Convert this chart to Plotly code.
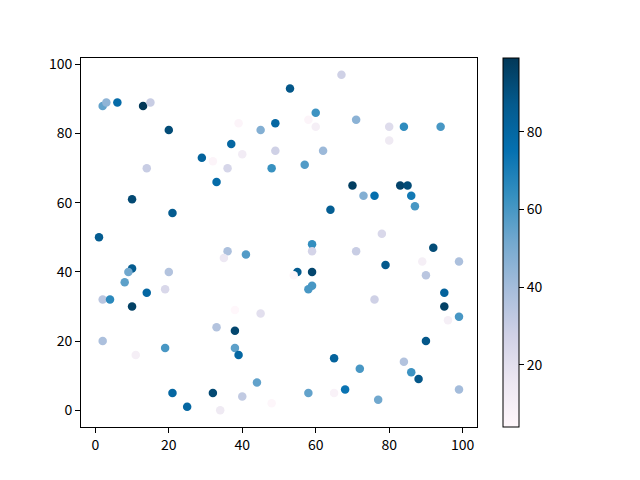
import plotly.graph_objects as go

# scatter points (x, y, colour value)
x_vals = [2, 3, 6, 13, 15, 20, 39, 45, 49, 37, 29, 32, 40, 36, 49, 48, 14, 33, 10, 21,
          1, 67, 53, 60, 58, 60, 71, 80, 84, 94, 80, 62, 57, 70, 73, 76, 83, 85, 86, 87,
          64, 78, 36, 35, 41, 10, 9, 20, 8, 14, 19, 2, 4, 10, 38, 45, 33, 38, 2, 38,
          39, 19, 11, 44, 21, 32, 40, 25, 34, 48, 59, 59, 71, 92, 55, 59, 54, 79, 89, 99,
          90, 59, 58, 76, 95, 95, 96, 99, 90, 65, 84, 72, 86, 88, 58, 65, 68, 77, 99]
y_vals = [88, 89, 89, 88, 89, 81, 83, 81, 83, 77, 73, 72, 74, 70, 75, 70, 70, 66, 61, 57,
          50, 97, 93, 86, 84, 82, 84, 82, 82, 82, 78, 75, 71, 65, 62, 62, 65, 65, 62, 59,
          58, 51, 46, 44, 45, 41, 40, 40, 37, 34, 35, 32, 32, 30, 29, 28, 24, 23, 20, 18,
          16, 18, 16, 8, 5, 5, 4, 1, 0, 2, 48, 46, 46, 47, 40, 40, 39, 42, 43, 43,
          39, 36, 35, 32, 34, 30, 26, 27, 20, 15, 14, 12, 11, 9, 5, 5, 6, 3, 6]
c_vals = [55, 45, 78, 99, 30, 92, 6, 48, 80, 80, 82, 6, 12, 25, 28, 63, 30, 78, 93, 86,
          86, 28, 88, 62, 6, 10, 46, 22, 65, 60, 14, 42, 58, 97, 48, 76, 95, 92, 72, 60,
          85, 24, 38, 15, 58, 86, 52, 36, 56, 80, 24, 34, 66, 96, 4, 20, 36, 94, 38, 56,
          80, 60, 10, 55, 80, 93, 32, 80, 14, 5, 64, 26, 30, 92, 86, 94, 5, 87, 10, 38,
          34, 60, 60, 28, 82, 96, 10, 60, 88, 82, 36, 60, 62, 88, 55, 8, 74, 52, 40]

cbar_ticks = [20, 40, 60, 80]
font_name = "Noto Sans CJK SC"

fig = go.Figure()
fig.add_scatter(
    x=x_vals, y=y_vals, mode="markers",
    marker=dict(
        size=8.5, color=c_vals, colorscale="PuBu",
        cmin=min(c_vals), cmax=max(c_vals),
        line=dict(width=0),
        colorbar=dict(
            thickness=16, len=1, lenmode="fraction", y=0.5, yanchor="middle",
            x=1.066, xanchor="left", xpad=0, ypad=0,
            outlinewidth=1, outlinecolor="black",
            tickvals=cbar_ticks, ticks="outside", ticklen=5, tickwidth=1,
            tickcolor="black", tickfont=dict(size=14, color="black", family=font_name),
        ),
    ),
    showlegend=False,
)

axis_style = dict(
    showgrid=False, zeroline=False, showline=True, linecolor="black", linewidth=1,
    mirror=True, ticks="outside", ticklen=5, tickwidth=1, tickcolor="black",
    tickfont=dict(size=14, color="black", family=font_name),
)
fig.update_xaxes(range=[-3.9, 103.9], tickvals=[0, 20, 40, 60, 80, 100], **axis_style)
fig.update_yaxes(range=[-4.85, 101.85], tickvals=[0, 20, 40, 60, 80, 100], **axis_style)

# the page adds ~8px offset, so margins are shifted up/left to compensate
fig.update_layout(
    width=640, height=480,
    margin=dict(l=73, r=171, t=50, b=61),
    paper_bgcolor="white", plot_bgcolor="white",
    font=dict(family=font_name, color="black"),
)

fig.write_html("out.html")
